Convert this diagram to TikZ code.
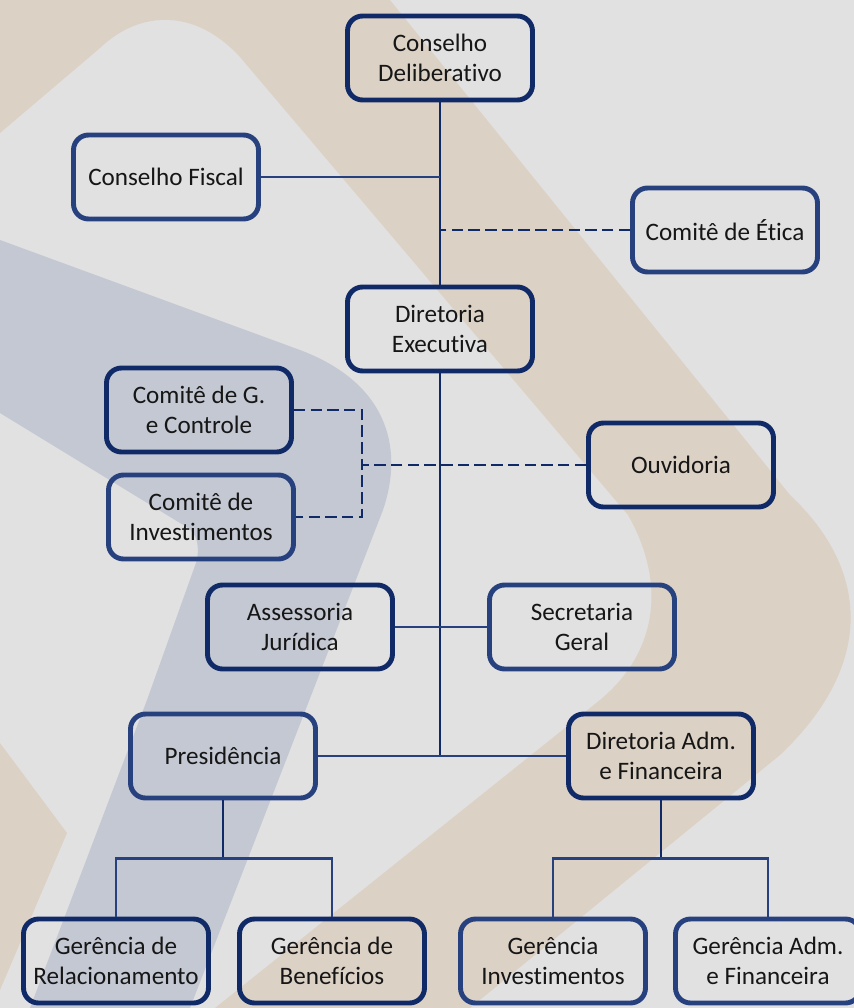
\documentclass[tikz,border=0pt]{standalone}
\usepackage{fontspec}
\setmainfont{Carlito}[Ligatures=NoCommon]
\definecolor{fundo}{RGB}{225,225,225}
\definecolor{bege}{RGB}{220,209,197}
\definecolor{cinzaazul}{RGB}{196,200,211}
\definecolor{marinho}{RGB}{38,65,126}
\definecolor{marinhoesc}{RGB}{16,42,104}
\definecolor{texto}{RGB}{22,22,22}

\begin{document}
\begin{tikzpicture}[x=0.02cm,y=-0.02cm,
  caixa/.style={draw=marinho, line width=2.8pt, rounded corners=0.3cm, minimum width=3.7cm, minimum height=1.68cm, align=center, text=texto, font=\fontsize{14.3}{17}\selectfont},
  caixaesc/.style={caixa, draw=marinhoesc},
  linha/.style={draw=marinho, line width=1.2pt},
  tronco/.style={draw=marinhoesc, line width=1.7pt},
  tracejado/.style={draw=marinhoesc, line width=1.6pt, dash pattern=on 6.5pt off 3pt}]
\clip (0,0) rectangle (854,1008);
\fill [fundo] (0,0) rectangle (854,1008);

% logo ao fundo
\fill [bege] (0,0) -- (390,0) -- (790,495) .. controls (870,570) and (875,665) .. (780,755) -- (470,1008) -- (215,1008) -- (600,700) .. controls (660,650) and (665,580) .. (628,515) -- (240,57) .. controls (195,8) and (140,10) .. (100,48) -- (0,133) -- cycle;
\fill [bege] (0,743) -- (67,833) -- (0,990) -- cycle;
\fill [cinzaazul] (0,240) -- (300,350) .. controls (385,382) and (405,445) .. (383,510) -- (190,1008) -- (30,1008) -- (147,700) -- (197,560) .. controls (200,540) and (195,530) .. (180,523) -- (0,413) -- cycle;

% caixas
\node [caixaesc] (cd) at (440,58) {Conselho\\Deliberativo};
\node [caixa] (cf) at (166,177) {Conselho Fiscal};
\node [caixa] (ce) at (725,230) {Comitê de Ética};
\node [caixaesc] (de) at (440,329) {Diretoria\\Executiva};
\node [caixaesc] (cgc) at (199,410) {Comitê de G.\\e Controle};
\node [caixa] (ci) at (201,517) {Comitê de\\Investimentos};
\node [caixaesc] (ouv) at (681,465) {Ouvidoria};
\node [caixaesc] (aj) at (300,627) {Assessoria\\Jurídica};
\node [caixa] (sg) at (582,627) {Secretaria\\Geral};
\node [caixa] (pres) at (223,756) {Presidência};
\node [caixaesc] (daf) at (661,756) {Diretoria Adm.\\e Financeira};
\node [caixaesc] (gr) at (116,961) {Gerência de\\Relacionamento};
\node [caixaesc] (gb) at (332,961) {Gerência de\\Benefícios};
\node [caixa] (gi) at (553,961) {Gerência\\Investimentos};
\node [caixa] (gaf) at (768,961) {Gerência Adm.\\e Financeira};
\coordinate (brk) at (362,465);

% ligacoes
\draw [tronco] (cd) -- (de);
\draw [linha] (cf.east) -- (cf.east -| cd.south);
\draw [tracejado] (ce.west) -- (ce.west -| cd.south);
\draw [tronco] (de.south) -- (de.south |- pres.east);
\draw [linha] (pres) -- (daf);
\draw [linha] (aj) -- (sg);
\draw [tracejado] (ouv.west) -- (brk);
\draw [tracejado] (cgc.east) -| (brk) |- (ci.east);
\draw [tronco] (pres.south) -- ++(0,58) coordinate (pbar);
\draw [linha] (gr.north) |- (pbar) -| (gb.north);
\draw [tronco] (daf.south) -- ++(0,58) coordinate (dbar);
\draw [linha] (gi.north) |- (dbar) -| (gaf.north);

\end{tikzpicture}
\end{document}
